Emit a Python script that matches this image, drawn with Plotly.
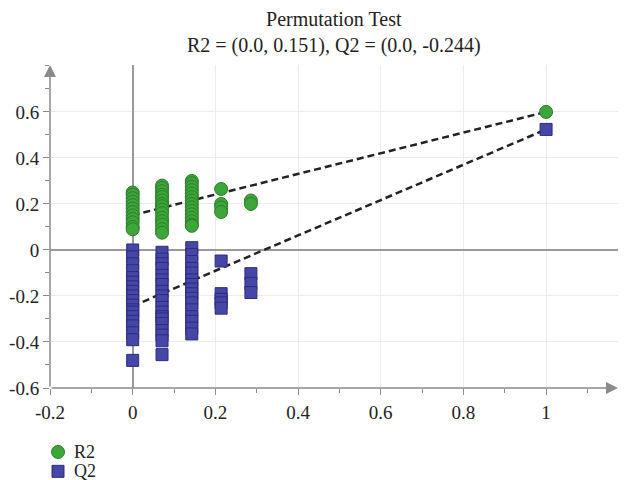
import plotly.graph_objects as go

# Correlation of permuted Y with original Y (x) for each permuted model
perm_levels = [0.0, 0.071, 0.143, 0.214, 0.286]

# R2 values of permuted models, one list per correlation level
r2_perm = [
    [0.25, 0.24, 0.225, 0.21, 0.195, 0.18, 0.165, 0.15, 0.135, 0.12, 0.10, 0.09],
    [0.28, 0.27, 0.255, 0.24, 0.23, 0.215, 0.20, 0.19, 0.175, 0.16, 0.14, 0.125, 0.11, 0.09, 0.075],
    [0.30, 0.29, 0.275, 0.26, 0.245, 0.23, 0.215, 0.20, 0.185, 0.17, 0.155, 0.14, 0.125, 0.11, 0.105],
    [0.265, 0.20, 0.185, 0.165],
    [0.215, 0.20],
]

# Q2 values of permuted models, one list per correlation level
q2_perm = [
    [0.0, -0.03, -0.06, -0.09, -0.12, -0.14, -0.16, -0.18, -0.20, -0.22, -0.24, -0.26,
     -0.27, -0.29, -0.31, -0.33, -0.36, -0.39, -0.48],
    [-0.01, -0.04, -0.06, -0.08, -0.11, -0.13, -0.15, -0.18, -0.20, -0.22, -0.25, -0.27,
     -0.29, -0.30, -0.32, -0.35, -0.37, -0.395, -0.455],
    [0.01, -0.02, -0.05, -0.08, -0.10, -0.13, -0.15, -0.17, -0.19, -0.21, -0.23, -0.26,
     -0.29, -0.31, -0.34, -0.365],
    [-0.048, -0.19, -0.215, -0.23, -0.253],
    [-0.103, -0.145, -0.185],
]

# Original (unpermuted) model
orig_x = 1.0
orig_r2 = 0.6
orig_q2 = 0.524

# Regression lines through the permutation results (intercepts at x = 0)
r2_intercept = 0.151
q2_intercept = -0.244

x_ticks = [-0.2, 0, 0.2, 0.4, 0.6, 0.8, 1]
x_ticktext = ["-0.2", "0", "0.2", "0.4", "0.6", "0.8", "1"]
y_ticks = [-0.6, -0.4, -0.2, 0, 0.2, 0.4, 0.6]
y_ticktext = ["-0.6", "-0.4", "-0.2", "0", "0.2", "0.4", "0.6"]
series_names = ["R2", "Q2"]

X_RANGE = [-0.2, 1.174]
Y_RANGE = [-0.6, 0.804]

FONT = "Liberation Serif"
GREEN, GREEN_EDGE = "#3da53a", "#2c7f2a"
BLUE, BLUE_EDGE = "#4646a6", "#2c2c7e"
AXIS = "#8a8a8a"

r2_x = [lvl for lvl, vals in zip(perm_levels, r2_perm) for _ in vals] + [orig_x]
r2_y = [v for vals in r2_perm for v in vals] + [orig_r2]
q2_x = [lvl for lvl, vals in zip(perm_levels, q2_perm) for _ in vals] + [orig_x]
q2_y = [v for vals in q2_perm for v in vals] + [orig_q2]

fig = go.Figure()

line_style = dict(color="#222222", width=2.5, dash="7px,4px")
fig.add_trace(go.Scatter(x=[0, orig_x], y=[r2_intercept, orig_r2], mode="lines",
                         line=line_style, showlegend=False, hoverinfo="skip"))
fig.add_trace(go.Scatter(x=[0, orig_x], y=[q2_intercept, orig_q2], mode="lines",
                         line=line_style, showlegend=False, hoverinfo="skip"))

fig.add_trace(go.Scatter(
    x=r2_x, y=r2_y, mode="markers", name=series_names[0], showlegend=False,
    marker=dict(symbol="circle", size=13, color=GREEN,
                line=dict(color=GREEN_EDGE, width=1)),
))
fig.add_trace(go.Scatter(
    x=q2_x, y=q2_y, mode="markers", name=series_names[1], showlegend=False,
    marker=dict(symbol="square", size=12, color=BLUE,
                line=dict(color=BLUE_EDGE, width=1)),
))

# Axis lines with arrowheads
fig.add_annotation(x=X_RANGE[1], y=Y_RANGE[0], ax=X_RANGE[0], ay=Y_RANGE[0],
                   xref="x", yref="y", axref="x", ayref="y", text="",
                   showarrow=True, arrowhead=2, arrowsize=1.6, arrowwidth=1.5,
                   arrowcolor=AXIS)
fig.add_annotation(x=X_RANGE[0], y=Y_RANGE[1], ax=X_RANGE[0], ay=Y_RANGE[0],
                   xref="x", yref="y", axref="x", ayref="y", text="",
                   showarrow=True, arrowhead=2, arrowsize=1.6, arrowwidth=1.5,
                   arrowcolor=AXIS)

# Two-line chart title, centred over the plot area
fig.add_annotation(
    text=f"Permutation Test<br>R2 = (0.0, {r2_intercept}), Q2 = (0.0, {q2_intercept})",
    xref="paper", yref="paper", x=0.5, y=1.182, xanchor="center", yanchor="top",
    showarrow=False, align="center",
    font=dict(family=FONT, size=20, color="#222222"),
)

# Compact legend below the x axis: symbol + label per series
legend_rows = [
    (series_names[0], "circle", GREEN, GREEN_EDGE, -0.198),
    (series_names[1], "rect", BLUE, BLUE_EDGE, -0.258),
]
for name, kind, fill, edge, ypos in legend_rows:
    half = 6.5 if kind == "circle" else 6
    fig.add_shape(type=kind, xref="paper", yref="paper",
                  xsizemode="pixel", ysizemode="pixel",
                  xanchor=0.0141, yanchor=ypos,
                  x0=-half, x1=half, y0=-half, y1=half,
                  fillcolor=fill, line=dict(color=edge, width=1))
    fig.add_annotation(text=name, xref="paper", yref="paper", x=0.038, y=ypos,
                       xanchor="left", yanchor="middle", showarrow=False,
                       font=dict(family=FONT, size=18, color="#222222"))

axis_common = dict(
    showline=False, showgrid=True, gridcolor="#ececec", gridwidth=1,
    zeroline=True, zerolinecolor="#9a9a9a", zerolinewidth=1.5,
    ticks="outside", ticklen=6, tickcolor=AXIS, tickwidth=1,
    tickfont=dict(family=FONT, size=19, color="#222222"),
    minor=dict(dtick=0.1, ticks="outside", ticklen=4, tickcolor=AXIS, showgrid=False),
    fixedrange=True, automargin=False,
)

fig.update_xaxes(range=X_RANGE, tickvals=x_ticks, ticktext=x_ticktext,
                 ticklabelstandoff=1, **axis_common)
fig.update_yaxes(range=Y_RANGE, tickvals=y_ticks, ticktext=y_ticktext, **axis_common)

fig.update_layout(
    width=625, height=480,
    margin=dict(l=50, r=7, t=65, b=92, autoexpand=False),
    paper_bgcolor="white", plot_bgcolor="white",
    showlegend=False,
)

fig.write_html("out.html")
